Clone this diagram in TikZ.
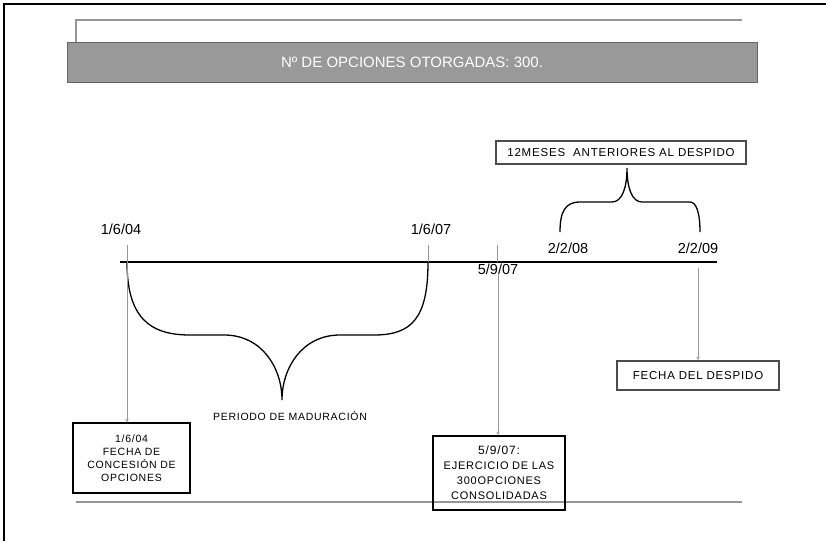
\documentclass[tikz,border=0pt]{standalone}
\usepackage{fontspec}
\setmainfont{Liberation Sans}
\newfontfamily\spacedfont[LetterSpace=7]{Liberation Sans}
\usetikzlibrary{arrows,positioning}
\definecolor{bargray}{RGB}{153,153,153}
\definecolor{linegray}{RGB}{150,150,150}

\begin{document}
\begin{tikzpicture}[x=1pt,y=-1pt,
		datelbl/.style={font=\fontsize{14.5}{14}\selectfont, inner sep=0pt},
		infobox/.style={draw, line width=1.6pt, align=center, inner sep=2pt, font=\spacedfont\fontsize{10.5}{13}\selectfont},
		pointer/.style={-stealth, draw=linegray, line width=0.6pt},
		tick/.style={draw=linegray, line width=0.6pt},
		brace/.style={line width=1.3pt}]
		\useasboundingbox (0,0) rectangle (826,541);
		% frame and header
		\draw [line width=2pt] (4,541) -- (4,4) -- (826,4);
		\draw [tick, line width=1.5pt] (76,42) -- (76,20) -- (742,20);
		\node [fill=bargray, draw=gray!80!black, line width=1pt, minimum width=690, minimum height=40, text=white, font=\fontsize{15}{15}\selectfont] (title) at (412,62) {Nº DE OPCIONES OTORGADAS: 300.};
		\draw [tick, line width=1.5pt] (76,502) -- (742,502);
		
		% timeline
		\coordinate (start) at (120,262);
		\coordinate (end) at (717,262);
		\coordinate (t1) at (127,262);
		\coordinate (t2) at (428,262);
		\coordinate (t3) at (497,262);
		\coordinate (t5) at (699,262);
		\coordinate (up1) at (127,245);
		\coordinate (up2) at (428,245);
		\coordinate (up3) at (497,245);
		\draw [line width=1.8pt] (start) -- (end);
		\draw [tick] (up2) -- (t2);
		\draw [tick] (up3) -- (t3);
		
		\node [datelbl] (d1) at (121,229) {1/6/04};
		\node [datelbl] (d2) at (431,229) {1/6/07};
		\node [datelbl, anchor=north] (d3) at (498,264) {5/9/07};
		\node [datelbl] (d4) at (568,248) {2/2/08};
		\node [datelbl] (d5) at (698,248) {2/2/09};
		
		% braces
		\draw [brace] (t1) .. controls (127,318) and (150,335) .. (190,335) -- (224,335) .. controls (262,335) and (282,368) .. (282,400) .. controls (282,368) and (302,335) .. (340,335) -- (374,335) .. controls (412,335) and (428,318) .. (t2);
		\node [font=\spacedfont\fontsize{10.5}{12}\selectfont, inner sep=0pt] (period) at (290,416) {PERIODO DE MADURACIÓN};
		\draw [brace] (560,232) .. controls (560,212) and (565,202) .. (580,202) -- (612,202) .. controls (622,202) and (627,188) .. (627,168) .. controls (627,188) and (632,202) .. (642,202) -- (690,202) .. controls (696,202) and (700,212) .. (700,232);
		
		% boxes
		\node [infobox, draw=gray!60!black, line width=1.4pt, minimum width=250, minimum height=23, inner sep=1pt, font=\spacedfont\fontsize{11.5}{13}\selectfont] (box4) at (621,152.5) {12MESES\ \ ANTERIORES AL DESPIDO};
		\node [infobox, text width=113, minimum height=70] (box1) at (131.5,458) {1/6/04\\FECHA DE\\CONCESIÓN DE\\OPCIONES};
		\node [infobox, text width=128, minimum height=74, font=\spacedfont\fontsize{11}{15}\selectfont] (box2) at (499,473) {{\fontsize{12}{15}\selectfont 5/9/07:}\\EJERCICIO DE LAS\\300OPCIONES\\CONSOLIDADAS};
		\node [infobox, draw=gray!60!black, text width=158, minimum height=29, font=\spacedfont\fontsize{11.5}{13}\selectfont] (box3) at (698,375.5) {FECHA DEL DESPIDO};
		
		\draw [pointer] (up1) to (box1.north -| up1);
		\draw [pointer] (d3.south) to (box2.north -| d3.south);
		\draw [pointer] (698,268) to (box3.north);
		\end{tikzpicture}
\end{document}
